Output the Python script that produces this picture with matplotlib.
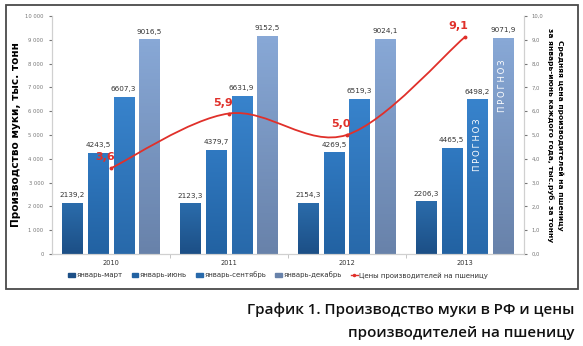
import numpy as np
import matplotlib.pyplot as plt
from matplotlib.colors import to_rgb
from matplotlib.lines import Line2D
from matplotlib.patches import Patch, PathPatch, Rectangle
from matplotlib.path import Path

years = ["2010", "2011", "2012", "2013"]
periods = ["январь-март", "январь-июнь", "январь-сентябрь", "январь-декабрь"]
flour = {
    "январь-март": [2139.2, 2123.3, 2154.3, 2206.3],
    "январь-июнь": [4243.5, 4379.7, 4269.5, 4465.5],
    "январь-сентябрь": [6607.3, 6631.9, 6519.3, 6498.2],
    "январь-декабрь": [9016.5, 9152.5, 9024.1, 9071.9],
}
wheat_price = [3.6, 5.9, 5.0, 9.1]
price_label = "Цены производителей на пшеницу"

# (top, bottom) colours of the vertical gradient for each period
bar_colors = {
    "январь-март": ("#2b6cab", "#1c4f86"),
    "январь-июнь": ("#3079c1", "#2262a2"),
    "январь-сентябрь": ("#3883cc", "#2869aa"),
    "январь-декабрь": ("#88a8d6", "#6882aa"),
}
red = "#e0302a"


def fmt_thousands(v):
    return f"{int(v):,}".replace(",", " ")


def fmt_dec(v):
    return f"{v:.1f}".replace(".", ",")


def smooth_path(xs, ys):
    # Catmull-Rom style smoothing drawn as cubic Bezier segments
    pts = np.column_stack([xs, ys]).astype(float)
    ext = np.vstack([pts[0], pts, pts[-1]])
    verts = [pts[0]]
    codes = [Path.MOVETO]
    for i in range(len(pts) - 1):
        p0, p1, p2, p3 = ext[i], ext[i + 1], ext[i + 2], ext[i + 3]
        verts += [p1 + (p2 - p0) / 6, p2 - (p3 - p1) / 6, p2]
        codes += [Path.CURVE4] * 3
    return Path(verts, codes)


fig = plt.figure(figsize=(5.83, 3.46), dpi=100)
ax = fig.add_axes([0.089, 0.266, 0.809, 0.688])
ax2 = ax.twinx()

x = np.arange(len(years))
step = 0.217
width = 0.17
for k, period in enumerate(periods):
    pos = x + (k - 1.5) * step
    bars = ax.bar(pos, flour[period], width, color="none", edgecolor="none")
    top, bottom = to_rgb(bar_colors[period][0]), to_rgb(bar_colors[period][1])
    grad = np.linspace(0, 1, 64)[:, None, None]
    img = np.array(bottom) * (1 - grad) + np.array(top) * grad
    for b, v in zip(bars, flour[period]):
        im = ax.imshow(img, extent=(b.get_x(), b.get_x() + b.get_width(), 0, v),
                       origin="lower", aspect="auto", zorder=2)
        im.set_clip_path(b)
        ax.text(b.get_x() + b.get_width() / 2, v + 200, f"{v:.1f}".replace(".", ","),
                ha="center", va="bottom", fontsize=5.2, color="#333333")

# forecast marks in 2013
forecast = "\u2009".join("ПРОГНОЗ")
ax.text(3 + 0.5 * step, 4600, forecast, rotation=90, ha="center", va="center",
        color="white", fontsize=6.1, zorder=4)
ax.text(3 + 1.5 * step, 7080, forecast, rotation=90, ha="center", va="center",
        color="white", fontsize=6.1, zorder=4)

ax.set_xlim(-0.5, 3.5)
ax.set_ylim(0, 10000)
ax.set_yticks(np.arange(0, 10001, 1000))
ax.set_yticklabels([fmt_thousands(v) for v in np.arange(0, 10001, 1000)])
ax.set_xticks(x)
ax.set_xticklabels(years)
ax.set_xticks([0.5, 1.5, 2.5], minor=True)
ax.tick_params(axis="x", which="major", length=0, labelsize=4.8, pad=4, colors="#333333")
ax.tick_params(axis="x", which="minor", length=3, color="#bbbbbb")
ax.tick_params(axis="y", labelsize=3.8, length=2, colors="#777777", pad=4)
ax.set_ylabel("Производство муки, тыс. тонн", fontsize=7.6, fontweight="bold", labelpad=3)

ax2.set_ylim(0, 10)
ax2.set_yticks(np.arange(0, 10.1, 1))
ax2.set_yticklabels([fmt_dec(v) for v in np.arange(0, 10.1, 1)])
ax2.tick_params(axis="y", labelsize=3.8, length=2, colors="#777777", pad=4)
ax2.set_ylabel("Средняя цена производителей на пшеницу\n"
               "за январь-июнь каждого года, тыс.руб. за тонну",
               rotation=270, fontsize=5.4, fontweight="bold", labelpad=14,
               linespacing=1.6)

for a in (ax, ax2):
    a.spines["top"].set_visible(False)
    for side in ("left", "right", "bottom"):
        a.spines[side].set_color("#d0d0d0")
        a.spines[side].set_linewidth(0.8)

ax2.add_patch(PathPatch(smooth_path(x, wheat_price), facecolor="none",
                        edgecolor=red, lw=1.3, zorder=5))
ax2.plot(x, wheat_price, "o", color=red, ms=1.8, zorder=6)
for xi, p in zip(x, wheat_price):
    ax2.text(xi - 0.05, p + 0.25, fmt_dec(p), ha="center", va="bottom",
             color=red, fontsize=8, fontweight="bold", zorder=6)

handles = [Patch(color=bar_colors[p][1]) for p in periods]
handles.append(Line2D([0], [0], color=red, lw=1, marker="o", ms=1.5))
fig.legend(handles, periods + [price_label], loc="center", ncol=5,
           bbox_to_anchor=(0.477, 0.205), frameon=False, fontsize=5.0,
           handlelength=1.0, handleheight=0.7, handletextpad=0.2,
           columnspacing=1.3, labelcolor="#333333")

# frame around the chart block
fig.patches.append(Rectangle((6 / 583, 1 - 289 / 346), 572 / 583, 284 / 346,
                             transform=fig.transFigure, fill=False,
                             edgecolor="#4a4a4a", lw=1.3))

title_font = ["Noto Sans Condensed", "Open Sans", "DejaVu Sans"]
for text, base in [("График 1. Производство муки в РФ и цены", 314),
                   ("производителей на пшеницу", 337)]:
    fig.text(574 / 583, 1 - base / 346, text, ha="right", va="baseline",
             fontsize=10.9, fontweight="semibold", fontstretch="condensed",
             family=title_font, color="#111111")

fig.savefig("out.png", dpi=100)
